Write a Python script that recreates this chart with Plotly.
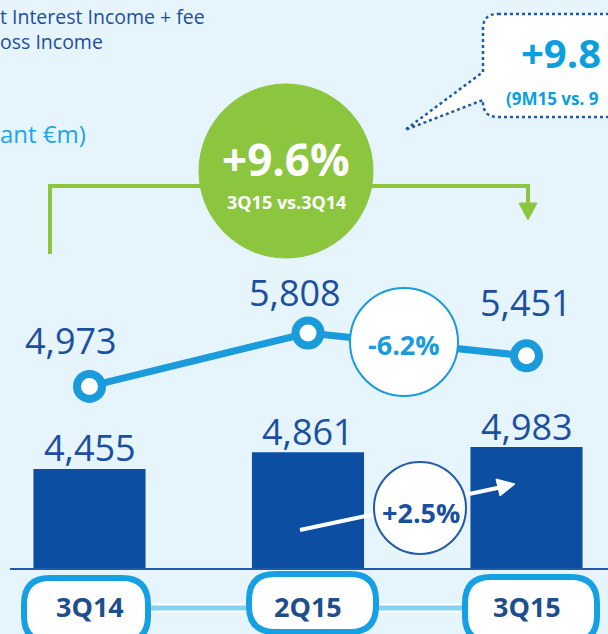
import plotly.graph_objects as go

# ---------------- data ----------------
quarters = ["3Q14", "2Q15", "3Q15"]
bar_values = [4455, 4861, 4983]          # Net Interest Income + fee (bars)
line_values = [4973, 5808, 5451]         # Gross Income (line)
bar_labels = ["4,455", "4,861", "4,983"]
line_labels = ["4,973", "5,808", "5,451"]
title_lines = ["t Interest Income + fee", "oss Income"]
unit_text = "ant €m)"
green_big = "+9.6%"
green_small = "3Q15 vs.3Q14"
bubble_big = "+9.8"
bubble_small = "(9M15 vs. 9"
qoq_line = "-6.2%"
qoq_bar = "+2.5%"

# ---------------- styles ----------------
W, H = 608, 634
BG = "#E6F4FC"
DARK = "#0B4EA2"
TXT = "#1B50A0"
LIGHT = "#1A9BDB"
GREEN = "#8CC63F"
PILL = "#15A0E4"
PILL_TXT = "#1F4E8C"
FONT = "Open Sans"

def P(x, y):
    return f"{x / W:.5f},{1 - y / H:.5f}"

def px_x(x):
    return x / W

def px_y(y):
    return 1 - y / H

def rrect(x0, y0, x1, y1, r):
    return ("M" + P(x0 + r, y0) + " L" + P(x1 - r, y0) + " Q" + P(x1, y0) + " " + P(x1, y0 + r)
            + " L" + P(x1, y1 - r) + " Q" + P(x1, y1) + " " + P(x1 - r, y1)
            + " L" + P(x0 + r, y1) + " Q" + P(x0, y1) + " " + P(x0, y1 - r)
            + " L" + P(x0, y0 + r) + " Q" + P(x0, y0) + " " + P(x0 + r, y0) + " Z")

def circle(cx, cy, r, fill, line_color, lw):
    return dict(type="circle", xref="paper", yref="paper",
                x0=px_x(cx - r), x1=px_x(cx + r), y0=px_y(cy + r), y1=px_y(cy - r),
                fillcolor=fill, line=dict(color=line_color, width=lw), layer="above")

fig = go.Figure()

fig.add_trace(go.Bar(
    x=quarters, y=bar_values, marker=dict(color=DARK, line=dict(width=0)),
    width=0.513, yaxis="y", hoverinfo="skip"))

fig.add_trace(go.Scatter(
    x=quarters, y=line_values, yaxis="y2", mode="lines+markers",
    line=dict(color=LIGHT, width=7),
    marker=dict(size=25, color="white", line=dict(color=LIGHT, width=8)),
    hoverinfo="skip", cliponaxis=False))

dom_bottom = (H - 569) / H
fig.update_layout(
    width=W, height=H, margin=dict(l=0, r=0, t=0, b=0),
    paper_bgcolor=BG, plot_bgcolor=BG, showlegend=False,
    xaxis=dict(type="category", range=[-0.4096, 2.373], showgrid=False, zeroline=False,
               showticklabels=False, showline=False, fixedrange=True),
    yaxis=dict(domain=[dom_bottom, 1], range=[2045, 2045 + 569 / 0.0415], visible=False,
               fixedrange=True),
    yaxis2=dict(domain=[dom_bottom, 1], overlaying="y", range=[2120.5, 11011], visible=False,
                fixedrange=True),
)

shapes = []
# axis baseline
shapes.append(dict(type="line", xref="paper", yref="paper", x0=px_x(10), x1=1,
                   y0=px_y(569), y1=px_y(569), line=dict(color="#1F5BA8", width=2), layer="above"))
# connecting line between pills
shapes.append(dict(type="line", xref="paper", yref="paper", x0=px_x(40), x1=px_x(590),
                   y0=px_y(608), y1=px_y(608), line=dict(color="white", width=9), layer="above"))
shapes.append(dict(type="line", xref="paper", yref="paper", x0=px_x(40), x1=px_x(590),
                   y0=px_y(608), y1=px_y(608), line=dict(color="#86D0F2", width=5), layer="above"))
# pills
for (x0, y0, x1, y1) in [(24, 578, 148, 642), (249, 574, 376, 632), (465, 577, 597, 642)]:
    shapes.append(dict(type="path", xref="paper", yref="paper", path=rrect(x0, y0, x1, y1, 26),
                       fillcolor="white", line=dict(color=PILL, width=6), layer="above"))
# green bracket
shapes.append(dict(type="path", xref="paper", yref="paper",
                   path="M" + P(50, 254) + " L" + P(50, 186) + " L" + P(528, 186) + " L" + P(528, 206),
                   line=dict(color=GREEN, width=4), layer="above"))
shapes.append(dict(type="path", xref="paper", yref="paper",
                   path="M" + P(519, 203) + " L" + P(537, 203) + " L" + P(528, 220) + " Z",
                   fillcolor=GREEN, line=dict(color=GREEN, width=1), layer="above"))
shapes.append(circle(286, 171, 87, GREEN, GREEN, 1))
# speech bubble
bub = ("M" + P(498, 14) + " L" + P(640, 14) + " L" + P(640, 117) + " L" + P(498, 117)
       + " Q" + P(483, 117) + " " + P(483, 102) + " L" + P(483, 100) + " L" + P(405, 130)
       + " L" + P(483, 72) + " L" + P(483, 29) + " Q" + P(483, 14) + " " + P(498, 14) + " Z")
shapes.append(dict(type="path", xref="paper", yref="paper", path=bub, fillcolor="white",
                   line=dict(color="#1F5BA8", width=2.5, dash="dot"), layer="above"))
# -6.2% circle
shapes.append(circle(404, 342, 54, "white", LIGHT, 2))
# white arrow across bars
shapes.append(dict(type="line", xref="paper", yref="paper", x0=px_x(300), y0=px_y(530),
                   x1=px_x(502), y1=px_y(487), line=dict(color="white", width=4), layer="above"))
shapes.append(dict(type="path", xref="paper", yref="paper",
                   path="M" + P(515, 484) + " L" + P(496, 479) + " L" + P(500, 496) + " Z",
                   fillcolor="white", line=dict(color="white", width=1), layer="above"))
# +2.5% circle
shapes.append(circle(420, 508, 46, "white", "#1F5BA8", 2))
fig.update_layout(shapes=shapes)

ann = []
# bar value labels
for q, v, t in zip(quarters, bar_values, bar_labels):
    ann.append(dict(x=q, y=v, xref="x", yref="y", text=t, showarrow=False, xanchor="center",
                    yanchor="middle", yshift=21, font=dict(family=FONT, size=36, color=TXT)))
# line value labels
line_shift = [(-19, 46), (-13, 41), (-1, 53)]
for q, v, t, (dx, dy) in zip(quarters, line_values, line_labels, line_shift):
    ann.append(dict(x=q, y=v, xref="x", yref="y2", text=t, showarrow=False, xanchor="center",
                    yanchor="middle", xshift=dx, yshift=dy, font=dict(family=FONT, size=36, color=TXT)))
# category pills text
for q in quarters:
    ann.append(dict(x=q, y=px_y(606), xref="x", yref="paper", text="<b>" + q + "</b>",
                    showarrow=False, xanchor="center", yanchor="middle",
                    font=dict(family=FONT, size=27, color=PILL_TXT)))
# top-left titles (two lines in one block)
ann.append(dict(x=0, y=px_y(29), xref="paper", yref="paper",
                text=title_lines[0] + "<br>" + title_lines[1], showarrow=False, align="left",
                xanchor="left", yanchor="middle", xshift=-2,
                font=dict(family=FONT, size=19.5, color="#1E4E9E")))
ann.append(dict(x=0, y=px_y(133), xref="paper", yref="paper", text=unit_text, showarrow=False,
                xanchor="left", yanchor="middle", xshift=-2, font=dict(family=FONT, size=24, color="#22A5E8")))
# green circle text
ann.append(dict(x=px_x(286), y=px_y(159), xref="paper", yref="paper", text="<b>" + green_big + "</b>",
                showarrow=False, xanchor="center", yanchor="middle",
                font=dict(family=FONT, size=44, color="white")))
ann.append(dict(x=px_x(286), y=px_y(202), xref="paper", yref="paper", text="<b>" + green_small + "</b>",
                showarrow=False, xanchor="center", yanchor="middle",
                font=dict(family=FONT, size=18, color="white")))
# bubble text
ann.append(dict(x=px_x(519), y=px_y(52), xref="paper", yref="paper", text="<b>" + bubble_big + "</b>",
                showarrow=False, xanchor="left", yanchor="middle",
                font=dict(family=FONT, size=40, color="#0AA0E0")))
ann.append(dict(x=px_x(504), y=px_y(98), xref="paper", yref="paper", text="<b>" + bubble_small + "</b>",
                showarrow=False, xanchor="left", yanchor="middle",
                font=dict(family=FONT, size=17, color="#0AA0E0")))
# change circles text
ann.append(dict(x=px_x(404), y=px_y(344), xref="paper", yref="paper", text="<b>" + qoq_line + "</b>",
                showarrow=False, xanchor="center", yanchor="middle",
                font=dict(family=FONT, size=27, color=LIGHT)))
ann.append(dict(x=px_x(421), y=px_y(512), xref="paper", yref="paper", text="<b>" + qoq_bar + "</b>",
                showarrow=False, xanchor="center", yanchor="middle",
                font=dict(family=FONT, size=27, color="#1B4F9D")))
fig.update_layout(annotations=ann)

fig.write_html("out.html", config={"displayModeBar": False},
               post_script="document.body.style.margin='0';document.body.style.padding='0';")
